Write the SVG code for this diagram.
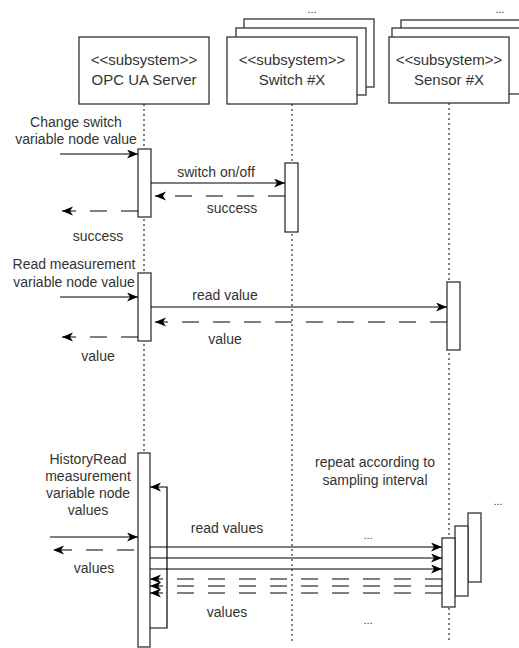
<svg xmlns="http://www.w3.org/2000/svg" width="519" height="648" viewBox="0 0 519 648">
<defs>
<marker id="arr" markerUnits="userSpaceOnUse" markerWidth="12" markerHeight="10" refX="11" refY="4.5" orient="auto">
<path d="M0,0 L11,4.5 L0,9 L3,4.5 z" fill="#000"/>
</marker>
<style>
.box{fill:#fff;stroke:#333;stroke-width:1.3}
.act{fill:#fff;stroke:#333;stroke-width:1.3}
.life{stroke:#555;stroke-width:1.5;stroke-dasharray:2 3;fill:none}
.msg{stroke:#000;stroke-width:1.2;fill:none;marker-end:url(#arr)}
.ret{stroke:#000;stroke-width:1.2;fill:none;stroke-dasharray:17 14;marker-end:url(#arr)}
text{font-family:"Liberation Sans",Arial,sans-serif;font-size:14px;fill:#333;text-anchor:middle}
.bt{font-size:15px}
.dots{font-size:11px}
</style>
</defs>
<rect width="519" height="648" fill="#fff"/>

<g id="lifelines">
<line class="life" x1="144" y1="104" x2="144" y2="453"/>
<line class="life" x1="292" y1="104" x2="292" y2="641"/>
<line class="life" x1="449" y1="103" x2="449" y2="642"/>
</g>

<g id="opc">
<rect class="box" x="79" y="37" width="130" height="67"/>
<text class="bt" x="144" y="65">&lt;&lt;subsystem&gt;&gt;</text>
<text class="bt" x="144" y="85">OPC UA Server</text>
</g>

<g id="switch">
<rect class="box" x="244" y="19" width="130" height="68"/>
<rect class="box" x="236" y="28" width="130" height="67"/>
<rect class="box" x="227" y="37" width="130" height="67"/>
<text class="bt" x="292" y="65">&lt;&lt;subsystem&gt;&gt;</text>
<text class="bt" x="292" y="85">Switch #X</text>
<text class="dots" x="312" y="13">...</text>
</g>

<g id="sensor">
<rect class="box" x="401" y="20" width="140" height="66"/>
<rect class="box" x="392" y="28" width="140" height="66"/>
<rect class="box" x="389" y="37" width="120" height="66"/>
<text class="bt" x="449" y="65">&lt;&lt;subsystem&gt;&gt;</text>
<text class="bt" x="449" y="85">Sensor #X</text>
<text class="dots" x="500" y="13">...</text>
</g>

<g id="activations">
<rect class="act" x="138" y="149" width="13" height="68"/>
<rect class="act" x="285" y="163" width="13" height="69"/>
<rect class="act" x="138" y="273" width="13" height="68"/>
<rect class="act" x="447" y="282" width="13" height="68"/>
<rect class="act" x="138" y="453" width="12" height="194"/>
<rect class="act" x="468" y="513" width="13" height="69"/>
<rect class="act" x="455" y="526" width="13" height="70"/>
<rect class="act" x="442" y="538" width="13" height="69"/>
</g>

<g id="connectors">
<line class="msg" x1="60" y1="154" x2="138" y2="154"/>
<line class="msg" x1="151" y1="183" x2="285" y2="183"/>
<line class="ret" x1="285" y1="196" x2="155" y2="196"/>
<line class="ret" x1="138" y1="211" x2="62" y2="211"/>

<line class="msg" x1="60" y1="297" x2="138" y2="297"/>
<line class="msg" x1="151" y1="307" x2="447" y2="307"/>
<line class="ret" x1="447" y1="322" x2="155" y2="322"/>
<line class="ret" x1="138" y1="337" x2="62" y2="337"/>

<path class="msg" d="M150,628 H167 V487 H150"/>
<line class="msg" x1="50" y1="537" x2="138" y2="537"/>
<line class="ret" x1="134" y1="550" x2="53" y2="550"/>
<line class="msg" x1="150" y1="547" x2="442" y2="547"/>
<line class="msg" x1="150" y1="558" x2="442" y2="558"/>
<line class="msg" x1="150" y1="569" x2="442" y2="569"/>
<line class="ret" x1="442" y1="579" x2="150" y2="579"/>
<line class="ret" x1="442" y1="586" x2="150" y2="586"/>
<line class="ret" x1="442" y1="593" x2="150" y2="593"/>
</g>

<g id="labels">
<text x="76" y="127">Change switch</text>
<text x="76" y="144">variable node value</text>
<text x="216" y="177">switch on/off</text>
<text x="232" y="213">success</text>
<text x="98" y="241">success</text>

<text x="74" y="269">Read measurement</text>
<text x="74" y="287">variable node value</text>
<text x="225" y="300">read value</text>
<text x="225" y="344">value</text>
<text x="98" y="361">value</text>

<text x="88" y="464">HistoryRead</text>
<text x="88" y="481">measurement</text>
<text x="88" y="498">variable node</text>
<text x="88" y="515">values</text>
<text x="94" y="573">values</text>
<text x="227" y="533">read values</text>
<text x="227" y="617">values</text>
<text x="375" y="467">repeat according to</text>
<text x="375" y="485">sampling interval</text>
<text class="dots" x="368" y="539">...</text>
<text class="dots" x="368" y="624">...</text>
<text class="dots" x="498" y="505">...</text>
</g>
</svg>
